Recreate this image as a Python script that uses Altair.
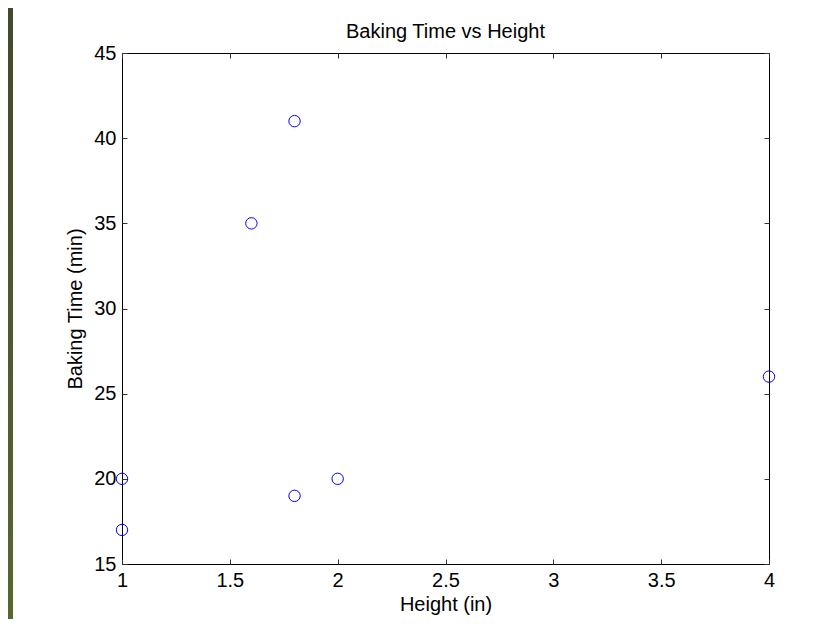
import altair as alt
import pandas as pd

# Data
height_in = [1.8, 1.6, 4.0, 1.0, 1.0, 1.8, 2.0]
baking_min = [41, 35, 26, 20, 17, 19, 20]

x_ticks = [1, 1.5, 2, 2.5, 3, 3.5, 4]
y_ticks = [15, 20, 25, 30, 35, 40, 45]

df = pd.DataFrame({"Height": height_in, "Time": baking_min})

FONT = "Liberation Sans"
FS = 20
TICK = 5

xs = alt.Scale(domain=[1, 4], nice=False, zero=False)
ys = alt.Scale(domain=[15, 45], nice=False, zero=False)

base = alt.Chart(df)

points = base.mark_point(
    shape="circle", filled=False, color="#0000ff", size=130, strokeWidth=1, opacity=1
).encode(
    x=alt.X("Height:Q", scale=xs, axis=alt.Axis(
        orient="bottom", values=x_ticks, labelExpr="'' + datum.value",
        title="Height (in)", offset=-TICK, tickSize=TICK, labelPadding=6,
        labelFlush=False, titlePadding=4, domain=False, grid=False)),
    y=alt.Y("Time:Q", scale=ys, axis=alt.Axis(
        orient="left", values=y_ticks, labelExpr="'' + datum.value",
        title="Baking Time (min)", offset=-TICK, tickSize=TICK, labelPadding=6,
        labelFlush=False, titlePadding=8, domain=False, grid=False)),
)

mirror = base.mark_point(opacity=0).encode(
    x=alt.X("Height:Q", scale=xs, axis=alt.Axis(
        orient="top", values=x_ticks, labels=False, title=None,
        offset=-TICK, tickSize=TICK, domain=False, grid=False)),
    y=alt.Y("Time:Q", scale=ys, axis=alt.Axis(
        orient="right", values=y_ticks, labels=False, title=None,
        offset=-TICK, tickSize=TICK, domain=False, grid=False)),
)

strip = alt.Chart(alt.Data(values=[{"k": 0}])).mark_rect(
    color=alt.LinearGradient(
        gradient="linear",
        stops=[alt.GradientStop(color="#414a2b", offset=0),
               alt.GradientStop(color="#576730", offset=1)],
        x1=0, x2=0, y1=0, y2=1,
    )
).encode(
    x=alt.value(-114), x2=alt.value(-109), y=alt.value(-45), y2=alt.value(566)
)

chart = alt.layer(strip, points, mirror).resolve_axis(
    x="independent", y="independent"
).properties(
    width=647,
    height=511,
    background="#ffffff",
    autosize=alt.AutoSizeParams(type="none"),
    padding={"left": 114, "top": 45, "right": 55, "bottom": 55},
    title=alt.TitleParams(
        "Baking Time vs Height", anchor="middle", frame="group",
        fontSize=FS, fontWeight="normal", font=FONT, color="#000000",
        baseline="alphabetic", offset=0, dy=50,
    ),
).configure_view(
    stroke="#000000", strokeWidth=1
).configure_axis(
    labelFont=FONT, titleFont=FONT, labelFontSize=FS, titleFontSize=FS,
    titleFontWeight="normal", labelColor="#000000", titleColor="#000000",
    tickColor="#333333", tickWidth=1,
)

chart.save("out.html", embed_options={"renderer": "svg", "actions": False})
